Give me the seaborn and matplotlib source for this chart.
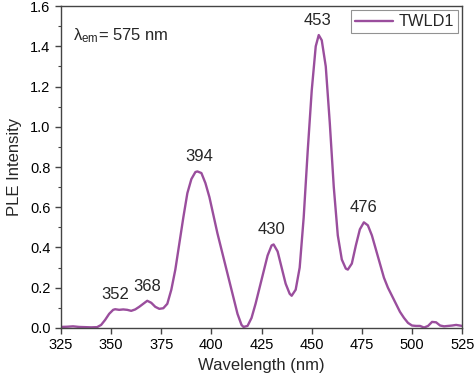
import numpy as np
import pandas as pd
import matplotlib
matplotlib.use("Agg")
import matplotlib.pyplot as plt
import seaborn as sns
from matplotlib.ticker import MultipleLocator

wavelength = [325, 328, 331, 334, 337, 340, 343, 345, 347, 349, 351, 352, 354, 356, 358, 360, 362,
              364, 366, 368, 370, 372, 374, 376, 378, 380, 382, 384, 386, 388, 390, 392, 393,
              395, 397, 399, 401, 403, 405, 407, 409, 411, 413, 415, 416, 418, 420, 422, 424,
              426, 428, 430, 431, 433, 435, 437, 439, 440, 442, 444, 446, 448, 450, 452, 453.5,
              455, 457, 459, 461, 463, 465, 467, 468, 470, 472, 474, 476, 478, 480, 482, 484,
              486, 488, 490, 492, 494, 496, 498, 500, 502, 504, 506, 508, 510, 512, 514, 516,
              518, 520, 522, 525]
intensity = [0.005, 0.006, 0.008, 0.005, 0.004, 0.003, 0.004, 0.015, 0.04, 0.07, 0.09, 0.093, 0.09,
             0.092, 0.09, 0.085, 0.092, 0.105, 0.12, 0.135, 0.125, 0.105, 0.095, 0.098, 0.12,
             0.19, 0.29, 0.42, 0.55, 0.67, 0.74, 0.775, 0.778, 0.77, 0.72, 0.65, 0.56, 0.47,
             0.39, 0.31, 0.23, 0.15, 0.07, 0.015, 0.005, 0.01, 0.05, 0.12, 0.2, 0.28, 0.36,
             0.41, 0.415, 0.38, 0.3, 0.22, 0.17, 0.16, 0.19, 0.3, 0.55, 0.88, 1.18, 1.40, 1.456,
             1.43, 1.3, 1.02, 0.7, 0.46, 0.34, 0.295, 0.29, 0.32, 0.41, 0.49, 0.525, 0.51, 0.46,
             0.39, 0.32, 0.25, 0.2, 0.16, 0.12, 0.08, 0.05, 0.025, 0.012, 0.01, 0.01, 0.002,
             0.01, 0.03, 0.028, 0.012, 0.008, 0.01, 0.012, 0.015, 0.01]
peak_labels = ["352", "368", "394", "430", "453", "476"]
peak_x = [352, 368, 394, 430, 453, 476]
peak_y = [0.093, 0.135, 0.778, 0.415, 1.456, 0.525]

df = pd.DataFrame({"Wavelength": wavelength, "Intensity": intensity, "Sample": "TWLD1"})

sns.set_style("ticks")
plt.rcParams["font.family"] = ["Liberation Sans", "DejaVu Sans"]
plt.rcParams["mathtext.fontset"] = "custom"
plt.rcParams["mathtext.rm"] = "Liberation Sans"
plt.rcParams["mathtext.it"] = "Liberation Sans"

fig = plt.figure(figsize=(4.74, 3.80), dpi=100)
ax = fig.add_axes([0.1287, 0.137, 0.975 - 0.1287, 0.984 - 0.137])

color = "#9a4e9d"
sns.lineplot(data=df, x="Wavelength", y="Intensity", hue="Sample", palette=[color],
             linewidth=1.7, ax=ax)

ax.set_xlim(325, 525)
ax.set_ylim(0, 1.6)
ax.xaxis.set_major_locator(MultipleLocator(25))
ax.yaxis.set_major_locator(MultipleLocator(0.2))
ax.yaxis.set_minor_locator(MultipleLocator(0.1))
ax.yaxis.set_major_formatter(matplotlib.ticker.FormatStrFormatter("%.1f"))
ax.tick_params(axis="both", which="major", direction="out", length=4, width=1,
               labelsize=10.5, colors="#444444", labelcolor="black")
ax.tick_params(axis="both", which="minor", direction="out", length=2.5, width=0.8,
               colors="#444444")
for s in ax.spines.values():
    s.set_color("#444444")
    s.set_linewidth(1.0)

ax.set_xlabel("Wavelength (nm)", fontsize=12, labelpad=4)
ax.set_ylabel("PLE Intensity", fontsize=12, labelpad=6)

for lab, px, py in zip(peak_labels, peak_x, peak_y):
    ax.text(px, py + 0.035, lab, ha="center", va="bottom", fontsize=12)

ax.text(331, 1.455, r"$\mathregular{λ_{em}}$= 575 nm", fontsize=12, ha="left", va="center")

leg = ax.legend(loc="upper right", frameon=True, fontsize=11.8, handlelength=2.3,
                handletextpad=0.35, borderpad=0.25, borderaxespad=0.25,
                fancybox=False, title=None)
leg.get_frame().set_edgecolor("#777777")
leg.get_frame().set_linewidth(0.8)

fig.savefig("out.png", dpi=100)
